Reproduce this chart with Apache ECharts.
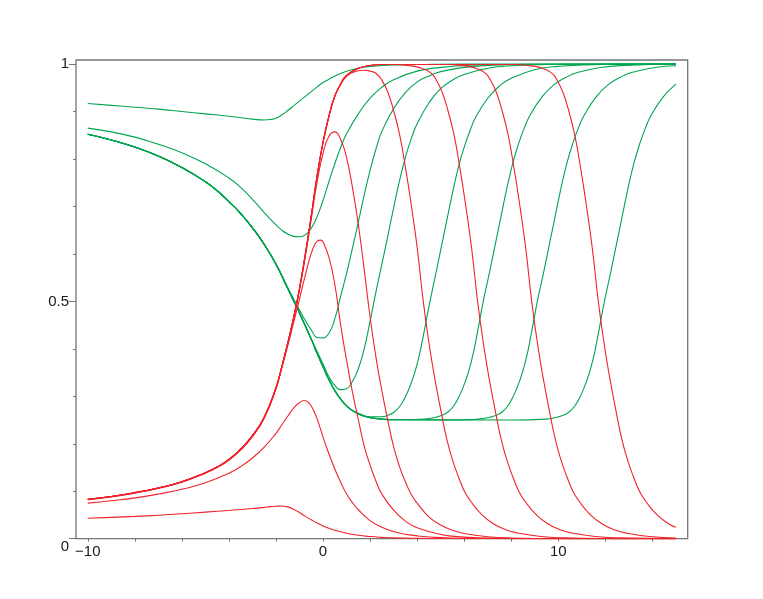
<!DOCTYPE html>
<html>
<head>
<meta charset="utf-8">
<script src="https://cdn.jsdelivr.net/npm/echarts@6/dist/echarts.min.js"></script>
<style>
html,body{margin:0;padding:0;background:#fff;}
#chart{width:763px;height:599px;}
</style>
</head>
<body>
<div id="chart"></div>
<script>
// ---- tick values ----
const xLabelValues = [-10, 0, 10];
const xTickValues = [-10, -8, -6, -4, -2, 0, 2, 4, 6, 8, 10, 12, 14];
const yLabelValues = [0, 0.5, 1];
const yMinorTickValues = [0.1, 0.2, 0.3, 0.4, 0.6, 0.7, 0.8, 0.9];

// ---- red curves ----
const redRise = [[-10,0.083],[-9,0.089],[-8,0.097],[-7,0.107],[-6,0.120],[-5,0.139],[-4.5,0.151],[-4,0.167],[-3.5,0.189],[-3,0.217],[-2.5,0.256],[-2,0.318],[-1.75,0.363],[-1.5,0.412],[-1.25,0.466],[-1,0.527],[-0.75,0.60],[-0.5,0.68],[-0.25,0.765],[0,0.835],[0.25,0.89],[0.5,0.932],[0.75,0.958],[1,0.976],[1.5,0.991],[2,0.997],[2.5,0.999]];

const red1 = [[-10,0.043],[-9,0.045],[-8,0.047],[-7,0.0495],[-6,0.0525],[-5,0.056],[-4,0.0595],[-3.5,0.0615],[-3,0.0637],[-2.5,0.066],[-2.25,0.0675],[-2,0.0685],[-1.75,0.069],[-1.5,0.067],[-1.25,0.062],[-1,0.055],[-0.75,0.047],[-0.5,0.04],[-0.25,0.033],[0,0.027],[0.25,0.022],[0.5,0.018],[0.75,0.0145],[1,0.0115],[1.5,0.0072],[2,0.0045],[2.5,0.0028],[3,0.0017],[4,0.0007],[5,0.0003],[7,0.0001],[15,0]];

const red2 = [[-10,0.075],[-9,0.080],[-8,0.086],[-7,0.094],[-6,0.104],[-5,0.118],[-4,0.138],[-3.5,0.152],[-3,0.170],[-2.5,0.193],[-2,0.222],[-1.75,0.240],[-1.5,0.258],[-1.25,0.275],[-1,0.287],[-0.8,0.291],[-0.6,0.286],[-0.4,0.27],[-0.2,0.245],[0,0.214],[0.25,0.179],[0.5,0.147],[0.75,0.119],[1,0.094],[1.25,0.076],[1.5,0.061],[2,0.038],[2.5,0.024],[3,0.015],[3.5,0.0095],[4,0.006],[5,0.0023],[6,0.0009],[8,0.0001],[15,0]];

const red3 = [[-10,0.082],[-9,0.088],[-8,0.096],[-7,0.106],[-6,0.119],[-5,0.138],[-4.5,0.150],[-4,0.165],[-3.5,0.187],[-3,0.215],[-2.5,0.254],[-2,0.316],[-1.75,0.36],[-1.5,0.406],[-1.25,0.455],[-1,0.505],[-0.75,0.556],[-0.5,0.601],[-0.25,0.627],[-0.1,0.629],[0,0.625],[0.25,0.593],[0.5,0.536],[0.75,0.45],[1,0.376],[1.25,0.309],[1.5,0.251],[1.75,0.195],[2,0.155],[2.25,0.121],[2.5,0.094],[3,0.06],[3.5,0.037],[4,0.023],[5,0.0088],[6,0.0033],[7,0.0013],[9,0.0002],[15,0]];

const red4 = [[-10,0.083],[-9,0.089],[-8,0.097],[-7,0.107],[-6,0.12],[-5,0.139],[-4.5,0.151],[-4,0.166],[-3.5,0.188],[-3,0.216],[-2.5,0.255],[-2,0.317],[-1.75,0.362],[-1.5,0.41],[-1.25,0.463],[-1,0.524],[-0.75,0.595],[-0.5,0.673],[-0.25,0.752],[0,0.812],[0.25,0.848],[0.5,0.857],[0.75,0.841],[1,0.803],[1.25,0.74],[1.5,0.662],[1.75,0.567],[2,0.467],[2.25,0.382],[2.5,0.312],[2.75,0.25],[3,0.194],[3.25,0.152],[3.5,0.12],[3.75,0.093],[4,0.075],[4.5,0.046],[5,0.029],[5.5,0.018],[6,0.011],[7,0.0042],[8,0.0016],[10,0.0002],[15,0]];

const red5Tail = [[0.75,0.957],[1,0.974],[1.25,0.982],[1.5,0.986],[1.76,0.987],[2.01,0.985],[2.26,0.98],[2.51,0.965],[2.76,0.94],[3.01,0.90],[3.26,0.85],[3.51,0.78],[3.76,0.70],[4.01,0.61],[4.26,0.50],[4.51,0.41],[4.76,0.335],[5.01,0.27],[5.26,0.21],[5.51,0.165],[5.76,0.13],[6.01,0.10],[6.26,0.08],[6.76,0.05],[7.26,0.031],[7.76,0.019],[8.26,0.012],[9.26,0.0045],[10.26,0.0017],[12,0.0003],[15,0]];

const red6Tail = [[3.07,0.999],[3.57,0.997],[4.07,0.993],[4.57,0.982],[4.82,0.966],[5.07,0.94],[5.32,0.90],[5.57,0.85],[5.82,0.78],[6.07,0.70],[6.32,0.61],[6.57,0.50],[6.82,0.41],[7.07,0.335],[7.32,0.27],[7.57,0.21],[7.82,0.165],[8.07,0.13],[8.32,0.10],[8.57,0.08],[9.07,0.05],[9.57,0.031],[10.07,0.019],[10.57,0.012],[11.57,0.0045],[12.57,0.0017],[15,0.0002]];

const red7Tail = [[4,0.999],[5.37,0.999],[5.87,0.997],[6.37,0.993],[6.87,0.982],[7.12,0.966],[7.37,0.94],[7.62,0.90],[7.87,0.85],[8.12,0.78],[8.37,0.70],[8.62,0.61],[8.87,0.50],[9.12,0.41],[9.37,0.335],[9.62,0.27],[9.87,0.21],[10.12,0.165],[10.37,0.13],[10.62,0.10],[10.87,0.08],[11.37,0.05],[11.87,0.031],[12.37,0.019],[12.87,0.012],[13.87,0.0045],[15,0.0016]];

const red8Tail = [[5,0.999],[8.2,0.999],[8.7,0.997],[9.2,0.993],[9.7,0.982],[9.95,0.966],[10.2,0.94],[10.45,0.90],[10.7,0.85],[10.95,0.78],[11.2,0.70],[11.45,0.61],[11.7,0.50],[11.95,0.41],[12.2,0.335],[12.45,0.27],[12.7,0.21],[12.95,0.165],[13.2,0.13],[13.45,0.10],[13.7,0.08],[14.2,0.05],[14.7,0.031],[15,0.024]];

// ---- green curves ----
const greenBase = [[-10,0.852],[-9,0.840],[-8,0.825],[-7,0.806],[-6,0.782],[-5,0.752],[-4.5,0.733],[-4,0.71],[-3.5,0.685],[-3,0.655],[-2.5,0.62],[-2,0.578],[-1.5,0.527],[-1,0.475],[-0.5,0.42],[-0.25,0.39],[0,0.362],[0.25,0.335],[0.5,0.312],[0.75,0.294],[1,0.28],[1.25,0.27],[1.5,0.263],[1.75,0.258],[2,0.255],[2.5,0.252],[3,0.2505]];

const green1 = [[-10,0.917],[-9,0.913],[-8,0.909],[-7,0.905],[-6,0.90],[-5,0.895],[-4,0.89],[-3.5,0.887],[-3,0.884],[-2.5,0.882],[-2.25,0.883],[-2,0.886],[-1.75,0.893],[-1.5,0.902],[-1.25,0.912],[-1,0.922],[-0.75,0.932],[-0.5,0.942],[-0.25,0.952],[0,0.961],[0.25,0.968],[0.5,0.975],[1,0.985],[1.5,0.991],[2,0.995],[3,0.998],[4,0.999],[6,1.0],[15,1.0]];

const green2 = [[-10,0.865],[-9,0.857],[-8,0.846],[-7,0.831],[-6,0.813],[-5,0.79],[-4,0.76],[-3.5,0.74],[-3,0.715],[-2.5,0.687],[-2,0.661],[-1.75,0.65],[-1.5,0.642],[-1.25,0.637],[-1,0.636],[-0.75,0.64],[-0.5,0.654],[-0.25,0.679],[0,0.713],[0.25,0.752],[0.5,0.79],[0.75,0.824],[1,0.853],[1.5,0.895],[2,0.928],[2.5,0.951],[3,0.967],[4,0.985],[5,0.993],[6,0.997],[8,0.999],[15,1.0]];

const green3Tail = [[-2.5,0.62],[-2,0.579],[-1.5,0.529],[-1,0.482],[-0.75,0.459],[-0.5,0.44],[-0.25,0.424],[0,0.423],[0.25,0.433],[0.5,0.463],[0.75,0.511],[1,0.559],[1.25,0.612],[1.5,0.667],[1.75,0.724],[2,0.776],[2.25,0.821],[2.5,0.858],[3,0.906],[3.5,0.94],[4,0.962],[4.5,0.975],[5,0.984],[6,0.993],[7,0.997],[9,0.9995],[15,1]];

const green4Tail = [[-1,0.475],[-0.5,0.421],[0,0.368],[0.25,0.341],[0.5,0.323],[0.75,0.314],[1,0.316],[1.25,0.331],[1.5,0.358],[1.75,0.40],[2,0.458],[2.25,0.52],[2.5,0.578],[2.75,0.637],[3,0.697],[3.25,0.754],[3.5,0.803],[3.75,0.843],[4,0.874],[4.5,0.918],[5,0.948],[5.5,0.966],[6,0.978],[7,0.991],[8,0.9965],[10,0.9995],[15,1]];

const green5Tail = [[1.5,0.264],[2,0.257],[2.5,0.257],[2.75,0.26],[3,0.266],[3.25,0.278],[3.5,0.299],[3.75,0.328],[4,0.368],[4.25,0.424],[4.5,0.489],[4.75,0.548],[5,0.608],[5.25,0.668],[5.5,0.728],[5.75,0.782],[6,0.825],[6.25,0.86],[6.5,0.889],[7,0.928],[7.5,0.954],[8,0.97],[9,0.988],[10,0.995],[12,0.9993],[15,1]];

const green6Tail = [[3.5,0.2505],[4.31,0.252],[4.81,0.256],[5.06,0.26],[5.31,0.267],[5.56,0.28],[5.81,0.3025],[6.06,0.333],[6.31,0.3745],[6.56,0.434],[6.81,0.50],[7.06,0.5575],[7.31,0.6175],[7.56,0.6775],[7.81,0.7375],[8.06,0.79],[8.31,0.832],[8.56,0.866],[8.81,0.893],[9.31,0.931],[9.81,0.956],[10.31,0.9715],[10.81,0.982],[11.81,0.9927],[12.81,0.997],[15,0.9995]];

const green7Tail = [[3.5,0.2505],[6,0.2502],[6.61,0.252],[7.11,0.256],[7.36,0.26],[7.61,0.267],[7.86,0.28],[8.11,0.3025],[8.36,0.333],[8.61,0.3745],[8.86,0.434],[9.11,0.50],[9.36,0.5575],[9.61,0.6175],[9.86,0.6775],[10.11,0.7375],[10.36,0.79],[10.61,0.832],[10.86,0.866],[11.11,0.893],[11.61,0.931],[12.11,0.956],[12.61,0.9715],[13.11,0.982],[14.11,0.9927],[15,0.9965]];

const green8Tail = [[3.5,0.2505],[8,0.25],[9.46,0.252],[9.96,0.256],[10.21,0.26],[10.46,0.267],[10.71,0.28],[10.96,0.3025],[11.21,0.333],[11.46,0.3745],[11.71,0.434],[11.96,0.50],[12.21,0.5575],[12.46,0.6175],[12.71,0.6775],[12.96,0.7375],[13.21,0.79],[13.46,0.832],[13.71,0.866],[13.96,0.893],[14.46,0.931],[14.96,0.956],[15,0.9575]];

// ---- assemble ----
function join(base, tail) {
  const start = tail[0][0];
  return base.filter(p => p[0] < start).concat(tail);
}
const redCurves = [red1, red2, red3, red4, join(redRise, red5Tail), join(redRise, red6Tail), join(redRise, red7Tail), join(redRise, red8Tail)];
const greenCurves = [green1, green2, join(greenBase, green3Tail), join(greenBase, green4Tail), join(greenBase, green5Tail), join(greenBase, green6Tail), join(greenBase, green7Tail), join(greenBase, green8Tail)];

const RED = '#f0222a';
const GREEN = '#00a550';
const FONT = 'Liberation Sans, Arial, Helvetica, sans-serif';
const AXIS = '#767676';

const series = [];
const lineBase = {type:'line', showSymbol:false, smooth:0.5, silent:true};
greenCurves.forEach(d => series.push(Object.assign({}, lineBase, {data:d, lineStyle:{color:GREEN, width:1.1}})));
redCurves.forEach(d => series.push(Object.assign({}, lineBase, {data:d, lineStyle:{color:RED, width:1.1}})));

const chart = echarts.init(document.getElementById('chart'), null, {renderer:'canvas'});
chart.setOption({
  animation:false,
  backgroundColor:'#ffffff',
  grid:{left:76, right:75.3, top:60, bottom:60.3, show:true, borderColor:AXIS, borderWidth:1.3, backgroundColor:'transparent'},
  xAxis:{
    type:'value', min:-10.5, max:15.5,
    axisLine:{show:false, onZero:false},
    splitLine:{show:false},
    axisTick:{show:true, customValues:xTickValues, length:3, lineStyle:{color:AXIS, width:1}},
    axisLabel:{customValues:xLabelValues, margin:6, fontSize:15, fontFamily:FONT, color:'#1a1a1a',
      formatter:v => v < 0 ? '\u2212' + (-v) : String(v)}
  },
  yAxis:[{
    type:'value', min:0, max:1.0085, position:'left',
    axisLine:{show:false, onZero:false},
    splitLine:{show:false},
    axisTick:{show:true, customValues:yLabelValues, length:7, lineStyle:{color:AXIS, width:1}},
    axisLabel:{customValues:yLabelValues, margin:7, fontSize:15, fontFamily:FONT, color:'#1a1a1a',
      formatter:v => v === 0 ? '{z|0}' : (v === 0.5 ? '0.5' : '1'),
      rich:{z:{fontSize:15, fontFamily:FONT, color:'#1a1a1a', padding:[16,0,0,0]}}}
  },{
    type:'value', min:0, max:1.0085, position:'left', offset:0,
    axisLine:{show:false, onZero:false},
    splitLine:{show:false},
    axisLabel:{show:false},
    axisTick:{show:true, customValues:yMinorTickValues, length:3, lineStyle:{color:AXIS, width:1}}
  }],
  series:series
});
</script>
</body>
</html>
